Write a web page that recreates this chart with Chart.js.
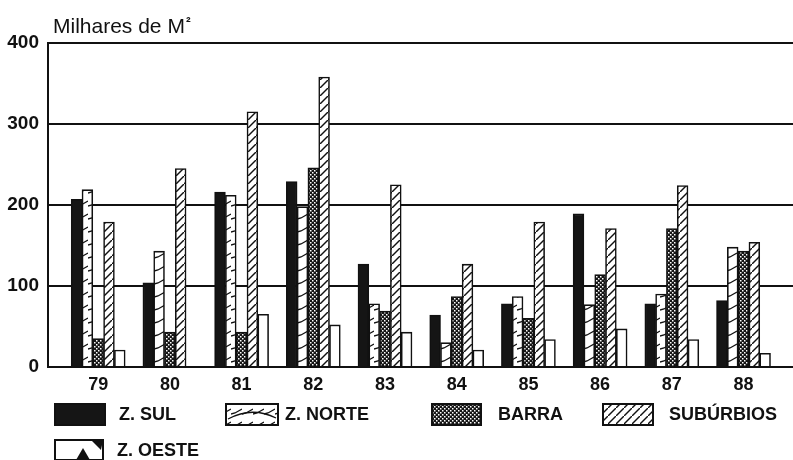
<!DOCTYPE html>
<html>
<head>
<meta charset="utf-8">
<script src="https://cdn.jsdelivr.net/npm/chart.js@4/dist/chart.umd.min.js"></script>
<style>
  html, body { margin: 0; padding: 0; background: #fff; }
  #wrap { position: relative; width: 793px; height: 460px; }
</style>
</head>
<body>
<div id="wrap"><canvas id="c" width="793" height="460"></canvas></div>
<script>
// ---- data ----
const years = ['79', '80', '81', '82', '83', '84', '85', '86', '87', '88'];
const seriesNames = ['Z. SUL', 'Z. NORTE', 'BARRA', 'SUBÚRBIOS', 'Z. OESTE'];
const zSul      = [207, 104, 216, 229, 127,  64,  78, 189,  78,  82];
const zNorte    = [219, 143, 212, 198,  78,  30,  87,  77,  90, 148];
const barra     = [ 35,  43,  43, 246,  69,  87,  60, 114, 171, 143];
const suburbios = [179, 245, 315, 358, 225, 127, 179, 171, 224, 154];
const zOeste    = [ 21,   0,  65,  52,  43,  21,  34,  47,  34,  17];
const yTicks    = [0, 100, 200, 300, 400];
const yUnit     = 'Milhares de M';
const yUnitSup  = '²';

// ---- patterns ----
function tile(w, h, draw) {
  const c = document.createElement('canvas');
  c.width = w; c.height = h;
  const g = c.getContext('2d');
  draw(g, w, h);
  return g.createPattern(c, 'repeat');
}
const patNorte = tile(11, 13, (g, w, h) => {
  g.fillStyle = '#fff'; g.fillRect(0, 0, w, h);
  g.strokeStyle = '#111'; g.lineWidth = 1.3;
  g.beginPath(); g.moveTo(0, 11); g.lineTo(4, 10); g.lineTo(11, 6); g.stroke();
});
const patBarra = tile(4, 4, (g, w, h) => {
  g.fillStyle = '#151515'; g.fillRect(0, 0, w, h);
  g.fillStyle = '#fff';
  g.fillRect(0, 0, 1.5, 1.5); g.fillRect(2, 2, 1.5, 1.5);
});
const patSub = tile(8, 8, (g, w, h) => {
  g.fillStyle = '#fff'; g.fillRect(0, 0, w, h);
  g.strokeStyle = '#111'; g.lineWidth = 1.4;
  g.beginPath();
  g.moveTo(-1, 9); g.lineTo(9, -1);
  g.stroke();
});
const fills = ['#151515', patNorte, patBarra, patSub, '#ffffff'];
const seriesData = [zSul, zNorte, barra, suburbios, zOeste];

const datasets = seriesNames.map((name, s) => ({
  label: name,
  data: seriesData[s].map((v, i) => ({ x: i, y: v })),
  backgroundColor: fills[s],
  borderColor: '#111',
  borderWidth: 1.6,
  barThickness: 10.8,
  borderSkipped: 'bottom'
}));

Chart.defaults.font.family = '"Liberation Sans", Arial, sans-serif';
Chart.defaults.color = '#111';

// ---- title + legend drawn on canvas ----
const decor = {
  id: 'decor',
  afterDraw(chart) {
    const ctx = chart.ctx;
    ctx.save();
    // unit title
    ctx.fillStyle = '#111';
    ctx.textBaseline = 'alphabetic';
    ctx.textAlign = 'left';
    ctx.font = '21px "Liberation Sans", Arial, sans-serif';
    ctx.fillText(yUnit, 53, 33);
    const bw = ctx.measureText(yUnit).width;
    ctx.font = 'bold 14px "Liberation Sans", Arial, sans-serif';
    ctx.fillText(yUnitSup, 53 + bw + 1, 27);

    // legend
    const items = [
      { box: [55, 404, 50, 21], tx: 119, ty: 415 },
      { box: [226, 404, 52, 21], tx: 285, ty: 415 },
      { box: [432, 404, 49, 21], tx: 498, ty: 415 },
      { box: [603, 404, 50, 21], tx: 669, ty: 415 },
      { box: [55, 440, 48, 20], tx: 117, ty: 451 }
    ];
    ctx.font = 'bold 18px "Liberation Sans", Arial, sans-serif';
    ctx.textBaseline = 'middle';
    items.forEach((it, s) => {
      const [x, y, w, h] = it.box;
      ctx.fillStyle = fills[s];
      ctx.fillRect(x, y, w, h);
      ctx.strokeStyle = '#111';
      ctx.lineWidth = 2;
      if (s === 1) {
        ctx.beginPath();
        ctx.moveTo(x + 2, y + h - 6);
        ctx.quadraticCurveTo(x + w / 2, y + 2, x + w - 2, y + h - 7);
        ctx.lineWidth = 1.3; ctx.stroke(); ctx.lineWidth = 2;
      }
      if (s === 4) {
        ctx.fillStyle = '#111';
        ctx.beginPath();
        ctx.moveTo(x + 21, y + h); ctx.lineTo(x + 28, y + 8); ctx.lineTo(x + 35, y + h); ctx.closePath(); ctx.fill();
        ctx.beginPath();
        ctx.moveTo(x + 36, y); ctx.lineTo(x + w, y); ctx.lineTo(x + w - 2, y + 10); ctx.closePath(); ctx.fill();
      }
      ctx.strokeRect(x, y, w, h);
      ctx.fillStyle = '#111';
      ctx.fillText(chart.data.datasets[s].label, it.tx, it.ty);
    });
    ctx.restore();
  }
};

new Chart(document.getElementById('c'), {
  type: 'bar',
  data: { datasets },
  plugins: [decor],
  options: {
    responsive: false,
    animation: false,
    devicePixelRatio: 1,
    layout: { padding: { top: 43, left: 0, right: 0, bottom: 0 } },
    plugins: { legend: { display: false }, tooltip: { enabled: false }, title: { display: false } },
    scales: {
      x: {
        type: 'linear',
        offset: false,
        min: -0.70,
        max: 9.69,
        bounds: 'ticks',
        grid: { display: false, drawTicks: false },
        border: { display: true, color: '#111', width: 2 },
        ticks: {
          stepSize: 1,
          includeBounds: false,
          autoSkip: false,
          maxRotation: 0,
          padding: 7,
          font: { size: 18, weight: 'bold' },
          color: '#111',
          callback: (v) => Number.isInteger(v) && years[v] !== undefined ? years[v] : ''
        },
        afterFit: (s) => { s.height = 93; }
      },
      y: {
        min: 0,
        max: 400,
        grid: { color: '#111', lineWidth: 2, drawTicks: false },
        border: { display: true, color: '#111', width: 2 },
        ticks: {
          stepSize: 100,
          padding: 9,
          font: { size: 19, weight: 'bold' },
          color: '#111',
          callback: (v) => yTicks.includes(v) ? String(v) : ''
        },
        afterFit: (s) => { s.width = 48; }
      }
    }
  }
});
</script>
</body>
</html>
